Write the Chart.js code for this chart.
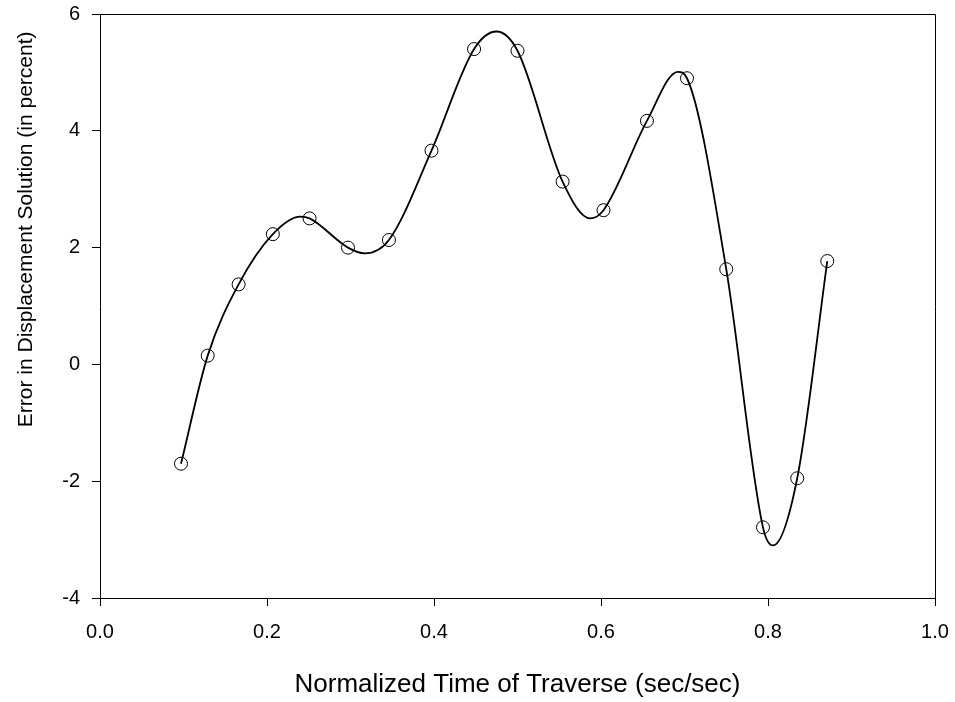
<!DOCTYPE html>
<html>
<head>
<meta charset="utf-8">
<script src="https://cdn.jsdelivr.net/npm/chart.js@4.4.1/dist/chart.umd.min.js"></script>
<style>
  html, body { margin: 0; padding: 0; background: #fff; }
  canvas { display: block; }
</style>
</head>
<body>
<canvas id="errorChart" width="955" height="702"></canvas>
<script>
// measured points (circles)
const timeValues = [0.097, 0.129, 0.166, 0.207, 0.251, 0.297, 0.346, 0.397, 0.448, 0.500, 0.554, 0.603, 0.655, 0.703, 0.750, 0.794, 0.835, 0.871];
const errorValues = [-1.70, 0.15, 1.37, 2.23, 2.50, 2.00, 2.13, 3.66, 5.40, 5.37, 3.13, 2.64, 4.17, 4.90, 1.63, -2.79, -1.95, 1.77];

const curveTimes = [0.097, 0.129, 0.166, 0.207, 0.240, 0.251, 0.297, 0.317, 0.346, 0.397, 0.448, 0.475, 0.500, 0.554, 0.587, 0.603, 0.655, 0.692, 0.703, 0.750, 0.794, 0.806, 0.835, 0.871];
const curveErrors = [-1.70, 0.15, 1.37, 2.23, 2.53, 2.50, 2.00, 1.90, 2.13, 3.66, 5.40, 5.70, 5.37, 3.13, 2.50, 2.64, 4.17, 5.01, 4.90, 1.63, -2.79, -3.10, -1.95, 1.77];

const xTicks = [0.0, 0.2, 0.4, 0.6, 0.8, 1.0];
const yTicks = [-4, -2, 0, 2, 4, 6];

const points = timeValues.map((t, i) => ({ x: t, y: errorValues[i] }));
const curve = curveTimes.map((t, i) => ({ x: t, y: curveErrors[i] }));

// top and right edges of the plot frame
const frame = {
  id: "frame",
  afterDraw(chart) {
    const { ctx, chartArea: a } = chart;
    ctx.save();
    ctx.strokeStyle = "#000";
    ctx.lineWidth = 1;
    ctx.beginPath();
    ctx.moveTo(a.left, a.top + 0.5);
    ctx.lineTo(a.right + 0.5, a.top + 0.5);
    ctx.lineTo(a.right + 0.5, a.bottom);
    ctx.stroke();
    ctx.restore();
  }
};

const fam = "Liberation Sans, Arial, sans-serif";
const tickFont = { family: fam, size: 20 };

new Chart(document.getElementById("errorChart"), {
  type: "scatter",
  data: {
    datasets: [{
      data: points,
      showLine: false,
      pointRadius: 6.5,
      pointBorderWidth: 1,
      pointBorderColor: "#000",
      pointBackgroundColor: "rgba(0,0,0,0)"
    }, {
      data: curve,
      showLine: true,
      borderColor: "#000",
      borderWidth: 1.8,
      cubicInterpolationMode: "monotone",
      fill: false,
      pointRadius: 0
    }]
  },
  options: {
    responsive: false,
    devicePixelRatio: 1,
    animation: false,
    layout: { padding: { top: 14, right: 20, left: 0, bottom: 0 } },
    plugins: { legend: { display: false }, tooltip: { enabled: false } },
    scales: {
      x: {
        type: "linear",
        min: 0, max: 1,
        afterFit: s => { s.height = 104; s.paddingLeft = 0; s.paddingRight = 0; },
        afterBuildTicks: s => { s.ticks = xTicks.map(v => ({ value: v })); },
        ticks: { color: "#000", font: tickFont, padding: 14, callback: v => v.toFixed(1) },
        grid: { drawOnChartArea: false, tickLength: 8, color: "#000" },
        border: { display: true, color: "#000" },
        title: {
          display: true,
          text: "Normalized Time of Traverse (sec/sec)",
          color: "#000",
          font: { family: fam, size: 26 },
          padding: { top: 0, bottom: 2 }
        }
      },
      y: {
        type: "linear",
        min: -4, max: 6,
        afterFit: s => { s.width = 100; s.paddingTop = 0; s.paddingBottom = 0; },
        afterBuildTicks: s => { s.ticks = yTicks.map(v => ({ value: v })); },
        ticks: { color: "#000", font: tickFont, padding: 12 },
        grid: { drawOnChartArea: false, tickLength: 8, color: "#000" },
        border: { display: true, color: "#000" },
        title: {
          display: true,
          align: "end",
          // trailing spaces keep the title a little below the top of the axis
          text: "Error in Displacement Solution (in percent)   ",
          color: "#000",
          font: { family: fam, size: 21 },
          padding: { top: 14, bottom: 0 }
        }
      }
    }
  },
  plugins: [frame]
});
</script>
</body>
</html>
